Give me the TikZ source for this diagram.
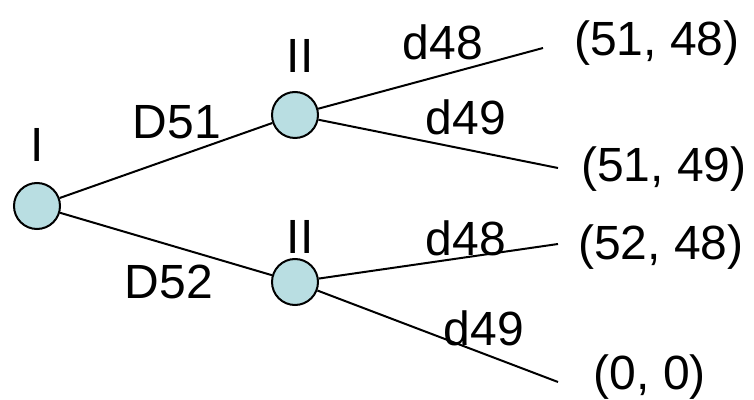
\documentclass[tikz,border=0pt]{standalone}
\usepackage{fontspec}
\setmainfont{Liberation Sans}
\definecolor{nodefill}{RGB}{185,222,226}
\begin{document}
\begin{tikzpicture}[
        x=0.5pt, y=-0.5pt,
        line width=1pt,
        player/.style={circle, draw, fill=nodefill, minimum size=23pt, inner sep=0pt}]

        \tikzstyle{every node}=[font=\fontsize{24}{28}\selectfont]

        \useasboundingbox (0,0) rectangle (754,400);

        % decision nodes
        \node[player] (pI) at (37,206) {};
        \node[player] (pIIa) at (295,115) {};
        \node[player] (pIIb) at (295,282) {};

        % end points of the last moves
        \coordinate (e1) at (543,48);
        \coordinate (e2) at (558,168);
        \coordinate (e3) at (558,244);
        \coordinate (e4) at (558,382);

        \draw (pI) -- (pIIa);
        \draw (pI) -- (pIIb);
        \draw (pIIa) -- (e1);
        \draw (pIIa) -- (e2);
        \draw (pIIb) -- (e3);
        \draw (pIIb) -- (e4);

        % players
        \node (nI) at (37,145) {I};
        \node (nIIa) at (300,56) {II};
        \node (nIIb) at (300,237) {II};

        % moves
        \node (mD51) at (177,122) {D51};
        \node (mD52) at (169,282) {D52};
        \node (ma48) at (443,42) {d48};
        \node (ma49) at (466,117) {d49};
        \node (mb48) at (466,238) {d48};
        \node (mb49) at (484,328) {d49};

        % payoffs
        \node (o1) at (657,43) {(51, 48)};
        \node (o2) at (664,169) {(51, 49)};
        \node (o3) at (661,247) {(52, 48)};
        \node (o4) at (650,377) {(0, 0)};
    \end{tikzpicture}
\end{document}
